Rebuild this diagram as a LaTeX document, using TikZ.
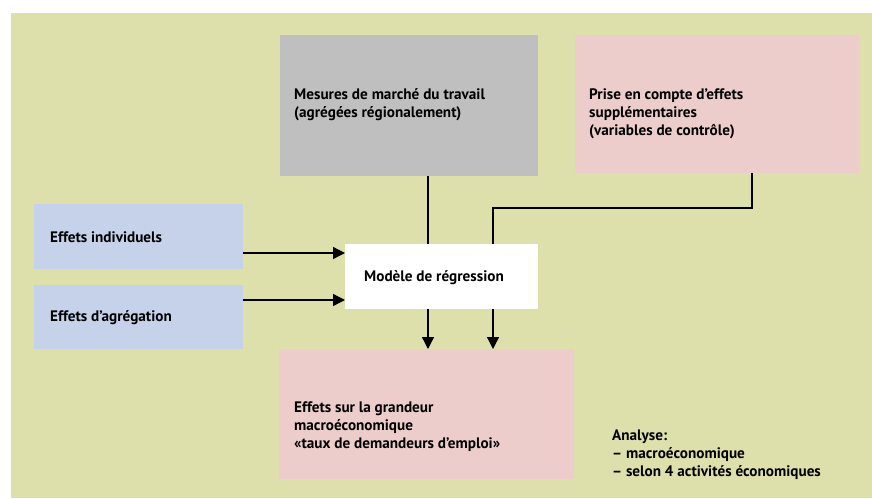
\documentclass[tikz,border=0pt]{standalone}
\usepackage{fontspec}
\setmainfont{PT Sans}
\usetikzlibrary{arrows.meta}
\definecolor{bgcol}{RGB}{222,224,171}
\definecolor{greycol}{RGB}{191,191,191}
\definecolor{pinkcol}{RGB}{236,205,204}
\definecolor{bluecol}{RGB}{197,210,234}
\tikzstyle{box} = [inner sep=0pt, outer sep=0pt, anchor=north west]
\tikzstyle{txt} = [inner sep=0pt, anchor=west, align=left, font={\fontsize{15.2}{18}\selectfont\bfseries}]
\tikzstyle{flow} = [line width=1.3pt, -{Triangle[length=12pt,width=12pt]}]

\begin{document}
\begin{tikzpicture}[x=1pt,y=-1pt]
    \useasboundingbox (0,0) rectangle (872,498);
    \fill[bgcol] (11,13) rectangle (872,498);
    \node[box,fill=greycol,minimum width=258pt,minimum height=141pt](mesures) at (280,35){};
    \node[box,fill=pinkcol,minimum width=284pt,minimum height=138pt](prise) at (575,35){};
    \node[box,fill=bluecol,minimum width=209pt,minimum height=65pt](indiv) at (34,204){};
    \node[box,fill=bluecol,minimum width=209pt,minimum height=64pt](agreg) at (34,285){};
    \node[box,fill=pinkcol,minimum width=295pt,minimum height=130pt](result) at (279,349){};
    \node[txt](tmesures) at (294,105){Mesures de marché du travail\\(agrégées régionalement)};
    \node[txt](tprise) at (589,114){Prise en compte d’effets\\supplémentaires\\(variables de contrôle)};
    \node[txt](tindiv) at (50,237){Effets individuels};
    \node[txt](tagreg) at (50,318){Effets d’agrégation};
    \node[txt](tresult) at (294,427){Effets sur la grandeur\\macroéconomique\\«taux de demandeurs d’emploi»};
    \node[txt](tanalyse) at (612,455){Analyse:\\– macroéconomique\\– selon 4 activités économiques};
    \coordinate (gx) at (428,0);
    \coordinate (px) at (752,0);
    \coordinate (rx) at (493,208);
    \draw[flow](mesures.south -| gx)--(result.north -| gx);
    \draw[flow](prise.south -| px)|-(rx)--(result.north -| rx);
    \node[box,fill=white,minimum width=193pt,minimum height=65pt](model) at (345,244){};
    \node[txt](tmodel) at (364,278){Modèle de régression};
    \coordinate (ia) at (0,253);
    \coordinate (aa) at (0,300);
    \draw[flow](indiv.east |- ia)--(model.west |- ia);
    \draw[flow](agreg.east |- aa)--(model.west |- aa);
  \end{tikzpicture}
\end{document}
